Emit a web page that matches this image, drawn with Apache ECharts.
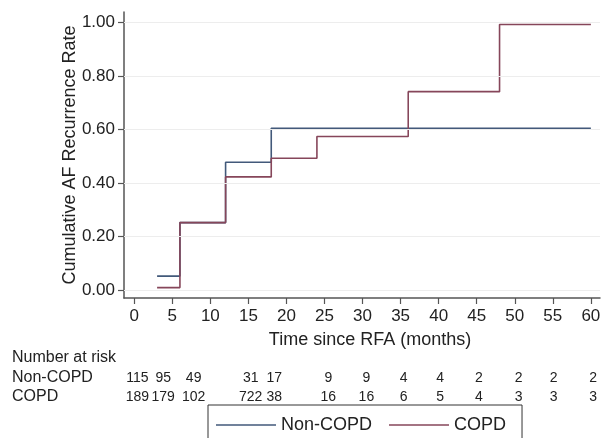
<!DOCTYPE html>
<html>
<head>
<meta charset="utf-8">
<script src="https://cdn.jsdelivr.net/npm/echarts@6/dist/echarts.min.js"></script>
<style>
  html, body { margin: 0; padding: 0; background: #fff; }
  #chart { width: 606px; height: 438px; }
</style>
</head>
<body>
<div id="chart"></div>
<script>
// step curves (months, cumulative rate)
const timesNonCopd = [3, 6, 12, 18, 60];
const rateNonCopd = [0.052, 0.252, 0.478, 0.605, 0.605];
const timesCopd = [3, 6, 12, 18, 24, 36, 48, 60];
const rateCopd = [0.009, 0.252, 0.423, 0.493, 0.574, 0.742, 0.993, 0.993];

const xTicks = [0, 5, 10, 15, 20, 25, 30, 35, 40, 45, 50, 55, 60];
const yTicks = [0, 0.2, 0.4, 0.6, 0.8, 1.0];

// number at risk table
const riskRows = ["Non-COPD", "COPD"];
const riskNonCopd = ["115", "95", "49", "31", "17", "9", "9", "4", "4", "2", "2", "2", "2"];
const riskCopd = ["189", "179", "102", "722", "38", "16", "16", "6", "5", "4", "3", "3", "3"];
const riskLabelTimes = [0.4, 3.8, 7.8, 15.3, 18.4, 25.5, 30.5, 35.4, 40.2, 45.3, 50.5, 55.1, 60.3];

const FONT = "Liberation Sans, Arial, Helvetica, sans-serif";
const TEXT = "#222";
const AXIS = "#555";
const C_NON = "#42597a";
const C_COPD = "#86465a";

const chart = echarts.init(document.getElementById("chart"));

const toPairs = (xs, ys) => xs.map((x, i) => [x, ys[i]]);

const option = {
  animation: false,
  backgroundColor: "#fff",
  textStyle: { fontFamily: FONT },
  grid: { left: 124, right: 6, top: 12, bottom: 140 },
  legend: {
    left: 208,
    top: 405,
    icon: "rect",
    itemWidth: 60,
    itemHeight: 1.5,
    itemGap: 17,
    padding: [11, 16, 22, 8],
    borderColor: "#333",
    borderWidth: 1,
    data: ["Non-COPD", "COPD"],
    textStyle: { fontSize: 18, color: TEXT, fontFamily: FONT },
  },
  xAxis: {
    type: "value",
    min: -1.35,
    max: 61.2,
    name: "Time since RFA (months)",
    nameLocation: "middle",
    nameGap: 33,
    nameMoveOverlap: false,
    nameTextStyle: { fontSize: 18, color: TEXT, fontFamily: FONT, padding: [0, 0, 0, 16] },
    axisLine: { show: true, onZero: false, lineStyle: { color: AXIS, width: 1.5 } },
    axisTick: { show: true, length: 6, customValues: xTicks, lineStyle: { color: AXIS, width: 1.2 } },
    axisLabel: { customValues: xTicks, margin: 10, fontSize: 17, color: TEXT, fontFamily: FONT },
    splitLine: { show: false },
  },
  yAxis: {
    type: "value",
    min: -0.03,
    max: 1.04,
    name: "Cumulative AF Recurrence Rate",
    nameLocation: "middle",
    nameGap: 45,
    nameMoveOverlap: false,
    nameTextStyle: { fontSize: 18, color: TEXT, fontFamily: FONT },
    axisLine: { show: true, onZero: false, lineStyle: { color: AXIS, width: 1.5 } },
    axisTick: { show: true, length: 6, customValues: yTicks, lineStyle: { color: AXIS, width: 1.2 } },
    axisLabel: {
      customValues: yTicks,
      margin: 9,
      fontSize: 17,
      color: TEXT,
      fontFamily: FONT,
      formatter: (v) => v.toFixed(2),
    },
    splitLine: { show: false },
  },
  series: [
    {
      name: "grid",
      type: "line",
      data: [],
      z: 1,
      silent: true,
      markLine: {
        silent: true,
        symbol: "none",
        label: { show: false },
        lineStyle: { color: "#ededed", width: 1, type: "solid" },
        data: yTicks.map((v) => ({ yAxis: v })),
      },
    },
    {
      name: "Non-COPD",
      type: "line",
      step: "end",
      symbol: "none",
      z: 3,
      data: toPairs(timesNonCopd, rateNonCopd),
      lineStyle: { color: C_NON, width: 1.6 },
      itemStyle: { color: C_NON },
    },
    {
      name: "COPD",
      type: "line",
      step: "end",
      symbol: "none",
      z: 4,
      data: toPairs(timesCopd, rateCopd),
      lineStyle: { color: C_COPD, width: 1.6 },
      itemStyle: { color: C_COPD },
    },
  ],
};

chart.setOption(option);

// number at risk table, placed through the x axis scale
const rowY = [378, 397];
const graphics = [
  {
    type: "text",
    left: 12,
    top: 359 - 9,
    style: { text: "Number at risk", font: "16px " + FONT, fill: TEXT },
  },
];
riskRows.forEach((label, r) => {
  graphics.push({
    type: "text",
    x: 12,
    y: rowY[r],
    style: { text: label, font: "16px " + FONT, fill: TEXT, textVerticalAlign: "middle" },
  });
  const vals = r === 0 ? riskNonCopd : riskCopd;
  vals.forEach((v, i) => {
    const px = chart.convertToPixel({ xAxisIndex: 0 }, riskLabelTimes[i]);
    graphics.push({
      type: "text",
      x: px,
      y: rowY[r],
      style: {
        text: v,
        font: "14px " + FONT,
        fill: TEXT,
        textAlign: "center",
        textVerticalAlign: "middle",
      },
    });
  });
});
chart.setOption({ graphic: graphics });

window.addEventListener("resize", () => chart.resize());
</script>
</body>
</html>
